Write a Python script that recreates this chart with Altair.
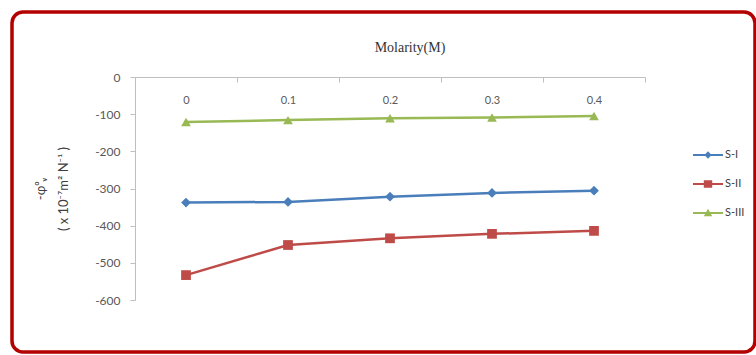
import altair as alt
import pandas as pd

# Molarity categories and the three series (values in 10^-7 m^2 N^-1)
molarity = ["0", "0.1", "0.2", "0.3", "0.4"]
s1_values = [-338, -336, -322, -312, -306]
s2_values = [-533, -452, -434, -422, -414]
s3_values = [-121, -116, -111, -109, -105]
series_names = ["S-I", "S-II", "S-III"]
series_colors = ["#4A7EBB", "#BE4B48", "#98B954"]
series_shapes = ["diamond", "square", "triangle-up"]
y_ticks = [0, -100, -200, -300, -400, -500, -600]

rows = []
for name, vals in zip(series_names, [s1_values, s2_values, s3_values]):
    for m, v in zip(molarity, vals):
        rows.append({"molarity": m, "value": v, "series": name})
df = pd.DataFrame(rows)

W, H = 510, 223
FONT = "Lato"

x_enc = alt.X(
    "molarity:N",
    sort=molarity,
    bandPosition=0.5,
    scale=alt.Scale(type="band", domain=molarity, paddingInner=0, paddingOuter=0),
    axis=alt.Axis(
        orient="bottom", offset=-H, tickBand="extent", labelAngle=0, title=None,
        tickSize=5, labelPadding=12, labelFontSize=11, labelColor="#595959",
        domainColor="#BFBFBF", tickColor="#BFBFBF", grid=False, labelFont=FONT,
    ),
)
y_enc = alt.Y(
    "value:Q",
    scale=alt.Scale(domain=[-600, 0], nice=False, zero=False),
    axis=alt.Axis(
        values=y_ticks, labelExpr="'' + datum.value", grid=False,
        tickSize=5, labelPadding=10, labelFontSize=12, labelColor="#595959",
        domainColor="#BFBFBF", tickColor="#BFBFBF", labelFont=FONT,
        title=["-φ⁰ᵥ", "( x 10⁻⁷m² N⁻¹ )"], titleFont=FONT, titleFontSize=13,
        titleFontWeight="normal", titleColor="#404040", titleLineHeight=23,
        titleX=-95, titleY=H / 2, titleBaseline="middle", titleAngle=270,
        titleAlign="center",
    ),
)

# One line and one marker layer per series, each in its own colour
series_layers = []
for name, color, shape in zip(series_names, series_colors, series_shapes):
    base = alt.Chart(df).transform_filter(alt.datum.series == name)
    series_layers.append(
        base.mark_line(strokeWidth=2.5, color=color).encode(x=x_enc, y=y_enc)
    )
    series_layers.append(
        base.mark_point(shape=shape, filled=True, size=95, opacity=1, color=color)
        .encode(x=x_enc, y=y_enc)
    )

# Legend symbols: a short line with the series marker on it
legend_paths = [
    "M-1.07,-0.075H1.07V0.075H-1.07Z M0,-0.26L0.26,0L0,0.26L-0.26,0Z",
    "M-1.07,-0.075H1.07V0.075H-1.07Z M-0.3,-0.27H0.3V0.27H-0.3Z",
    "M-1.07,-0.075H1.07V0.075H-1.07Z M0,-0.3L0.3,0.24H-0.3Z",
]
legend_props = dict(
    orient="none", legendX=559, legendY=64, title=None, padding=0,
    symbolSize=784, symbolStrokeWidth=0, symbolOpacity=1, rowPadding=10,
    labelFontSize=11, labelColor="#404040", labelFont=FONT, labelOffset=3,
)
legend_layer = alt.Chart(df).mark_point(filled=True, opacity=0).encode(
    x=x_enc, y=y_enc,
    color=alt.Color(
        "series:N", scale=alt.Scale(domain=series_names, range=series_colors),
        legend=alt.Legend(**legend_props),
    ),
    shape=alt.Shape(
        "series:N", scale=alt.Scale(domain=series_names, range=legend_paths),
        legend=alt.Legend(**legend_props),
    ),
)

# Rounded red frame around the whole figure
frame = alt.Chart(pd.DataFrame({"k": [0]})).mark_rect(
    filled=False, stroke="#B30000", strokeWidth=3.5, cornerRadius=11, fill="transparent"
).encode(
    x=alt.value(-123), x2=alt.value(620), y=alt.value(-65), y2=alt.value(275)
)

chart = (
    alt.layer(frame, *series_layers, legend_layer)
    .properties(
        width=W, height=H,
        title=alt.TitleParams(
            "Molarity(M)", font="Liberation Serif", fontSize=14, fontWeight="normal",
            color="#333333", anchor="middle", frame="group", dx=20, offset=0,
            baseline="bottom", dy=59,
        ),
        autosize=alt.AutoSizeParams(type="none"),
        padding={"left": 135, "top": 77, "right": 111, "bottom": 55},
        background="white",
    )
    .configure_view(stroke=None)
)

chart.save("out.html", embed_options={"renderer": "svg", "actions": False})
